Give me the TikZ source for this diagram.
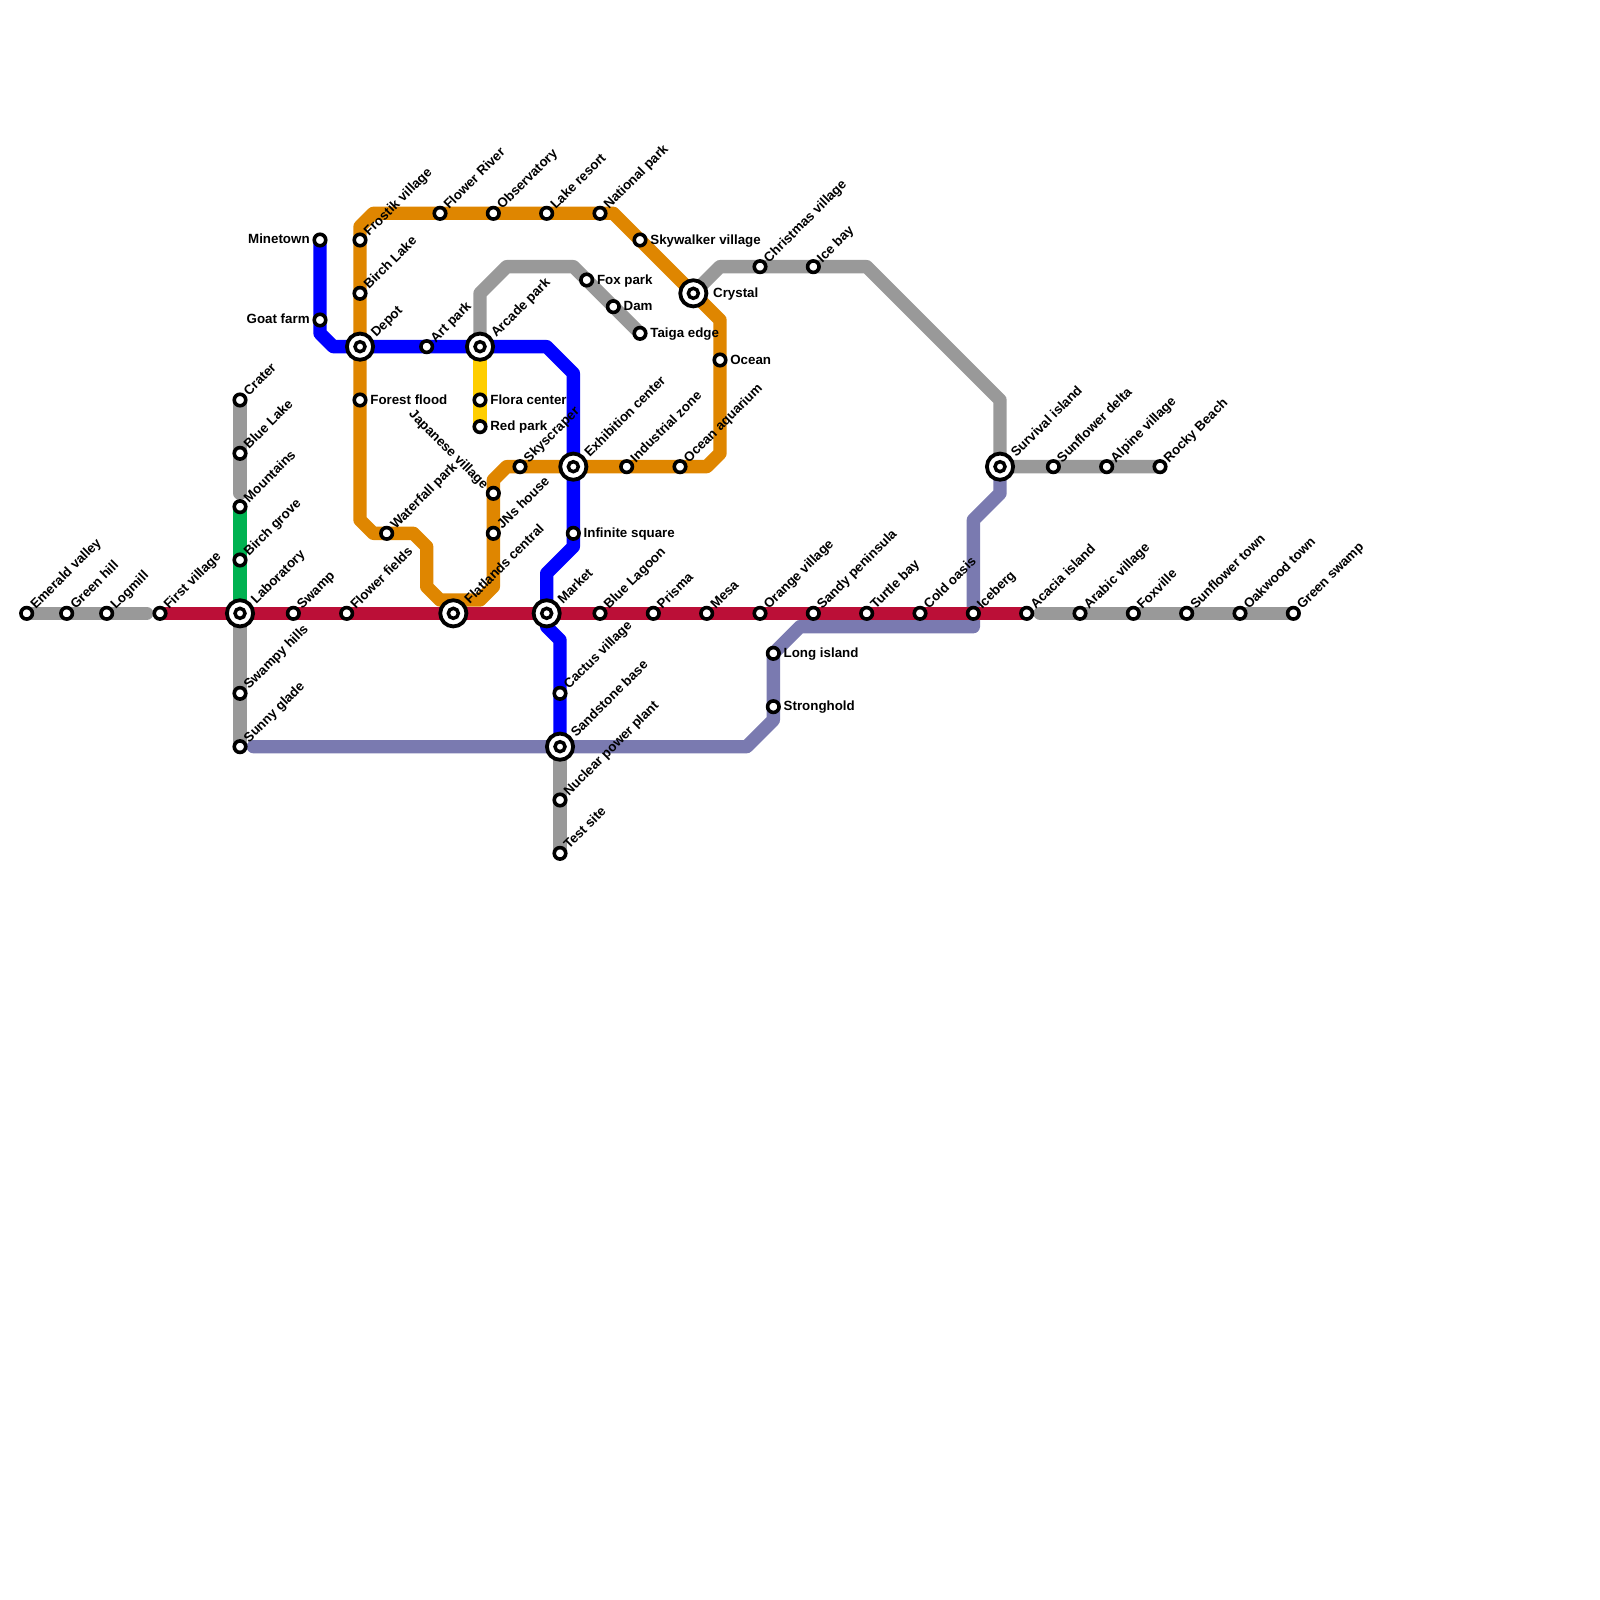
\documentclass[tikz,border=0pt]{standalone}
\usepackage{fontspec}
\setmainfont{Liberation Sans}
\usetikzlibrary{backgrounds}
\definecolor{linegray}{HTML}{999999}
\definecolor{lineorange}{HTML}{DF8600}
\definecolor{lineblue}{HTML}{0000FF}
\definecolor{linered}{HTML}{BB0F37}
\definecolor{linegreen}{HTML}{00B251}
\definecolor{lineyellow}{HTML}{FFCE00}
\definecolor{linepurple}{HTML}{7A7AB0}
\begin{document}
\begin{tikzpicture}[x=0.2cm,y=-0.2cm,
    stop node/.style={circle,draw=black,fill=white,line width=0.054cm,inner sep=0pt,minimum size=0.1725cm},
    hub node/.style={circle,draw=black,fill=white,line width=0.057cm,inner sep=0pt,minimum size=0.393cm,
        path picture={\draw[line width=0.052cm] (path picture bounding box.center) circle (0.075cm);}},
    metro line/.style={line width=0.2cm,line cap=round,line join=round},
    name text/.style={font=\bfseries\fontsize{5.69}{6.8}\selectfont,inner sep=0pt,text height=1.5ex,text depth=.25ex},
    ne label/.style={label={[name text,xshift=-0.03cm,rotate=45,anchor=west,label distance=0.05cm]45:#1}},
    hub ne label/.style={label={[name text,rotate=45,anchor=west,label distance=0.05cm]45:#1}},
    nw label/.style={label={[name text,xshift=0.015cm,rotate=-45,anchor=east,label distance=0.05cm]135:#1}},
    e label/.style={label={[name text,anchor=west,label distance=0.035cm,yshift=0.055cm]0:#1}},
    hub e label/.style={label={[name text,anchor=west,label distance=0.065cm,yshift=0.055cm]0:#1}},
    w label/.style={label={[name text,anchor=east,label distance=0.035cm,yshift=0.0625cm]180:#1}}]

    \useasboundingbox (0,0) rectangle (120,120);

    \node[stop node,ne label=Emerald valley] (emerald) at (2,46) {};
    \node[stop node,ne label=Green hill] (greenhill) at (5,46) {};
    \node[stop node,ne label=Logmill] (logmill) at (8,46) {};
    \node[stop node,ne label=First village] (firstvillage) at (12,46) {};
    \node[hub node,hub ne label=Laboratory] (laboratory) at (18,46) {};
    \node[stop node,ne label=Swamp] (swamp) at (22,46) {};
    \node[stop node,ne label=Flower fields] (flowerfields) at (26,46) {};
    \node[hub node,hub ne label=Flatlands central] (flatlands) at (34,46) {};
    \node[hub node,hub ne label=Market] (market) at (41,46) {};
    \node[stop node,ne label=Blue Lagoon] (bluelagoon) at (45,46) {};
    \node[stop node,ne label=Prisma] (prisma) at (49,46) {};
    \node[stop node,ne label=Mesa] (mesa) at (53,46) {};
    \node[stop node,ne label=Orange village] (orangevillage) at (57,46) {};
    \node[stop node,ne label=Sandy peninsula] (sandy) at (61,46) {};
    \node[stop node,ne label=Turtle bay] (turtlebay) at (65,46) {};
    \node[stop node,ne label=Cold oasis] (coldoasis) at (69,46) {};
    \node[stop node,ne label=Iceberg] (iceberg) at (73,46) {};
    \node[stop node,ne label=Acacia island] (acacia) at (77,46) {};
    \node[stop node,ne label=Arabic village] (arabic) at (81,46) {};
    \node[stop node,ne label=Foxville] (foxville) at (85,46) {};
    \node[stop node,ne label=Sunflower town] (sunflowertown) at (89,46) {};
    \node[stop node,ne label=Oakwood town] (oakwood) at (93,46) {};
    \node[stop node,ne label=Green swamp] (greenswamp) at (97,46) {};

    \node[stop node,ne label=Crater] (crater) at (18,30) {};
    \node[stop node,ne label=Blue Lake] (bluelake) at (18,34) {};
    \node[stop node,ne label=Mountains] (mountains) at (18,38) {};
    \node[stop node,ne label=Birch grove] (birchgrove) at (18,42) {};
    \node[stop node,ne label=Swampy hills] (swampyhills) at (18,52) {};
    \node[stop node,ne label=Sunny glade] (sunnyglade) at (18,56) {};

    \node[stop node,w label=Minetown] (minetown) at (24,18) {};
    \node[stop node,w label=Goat farm] (goatfarm) at (24,24) {};
    \node[hub node,hub ne label=Depot] (depot) at (27,26) {};
    \node[stop node,ne label=Art park] (artpark) at (32,26) {};
    \node[hub node,hub ne label=Arcade park] (arcade) at (36,26) {};
    \node[hub node,hub ne label=Exhibition center] (exhibition) at (43,35) {};
    \node[stop node,e label=Infinite square] (infinite) at (43,40) {};
    \node[stop node,ne label=Cactus village] (cactus) at (42,52) {};
    \node[hub node,hub ne label=Sandstone base] (sandstone) at (42,56) {};
    \node[stop node,ne label=Nuclear power plant] (nuclear) at (42,60) {};
    \node[stop node,ne label=Test site] (testsite) at (42,64) {};

    \node[stop node,ne label=Frostik village] (frostik) at (27,18) {};
    \node[stop node,ne label=Birch Lake] (birchlake) at (27,22) {};
    \node[stop node,e label=Forest flood] (forestflood) at (27,30) {};
    \node[stop node,ne label=Waterfall park] (waterfall) at (29,40) {};
    \node[stop node,ne label=Flower River] (flowerriver) at (33,16) {};
    \node[stop node,ne label=Observatory] (observatory) at (37,16) {};
    \node[stop node,ne label=Lake resort] (lakeresort) at (41,16) {};
    \node[stop node,ne label=National park] (nationalpark) at (45,16) {};
    \node[stop node,e label=Skywalker village] (skywalker) at (48,18) {};
    \node[hub node,hub e label=Crystal] (crystal) at (52,22) {};
    \node[stop node,e label=Ocean] (ocean) at (54,27) {};
    \node[stop node,ne label=Ocean aquarium] (oceanaquarium) at (51,35) {};
    \node[stop node,ne label=Industrial zone] (industrial) at (47,35) {};
    \node[stop node,ne label=Skyscraper] (skyscraper) at (39,35) {};
    \node[stop node,nw label=Japanese village] (japanese) at (37,37) {};
    \node[stop node,ne label=JNs house] (jnshouse) at (37,40) {};

    \node[stop node,e label=Flora center] (floracenter) at (36,30) {};
    \node[stop node,e label=Red park] (redpark) at (36,32) {};
    \node[stop node,e label=Fox park] (foxpark) at (44,21) {};
    \node[stop node,e label=Dam] (dam) at (46,23) {};
    \node[stop node,e label=Taiga edge] (taiga) at (48,25) {};
    \node[stop node,ne label=Christmas village] (christmas) at (57,20) {};
    \node[stop node,ne label=Ice bay] (icebay) at (61,20) {};
    \node[hub node,hub ne label=Survival island] (survival) at (75,35) {};
    \node[stop node,ne label=Sunflower delta] (sunflowerdelta) at (79,35) {};
    \node[stop node,ne label=Alpine village] (alpine) at (83,35) {};
    \node[stop node,ne label=Rocky Beach] (rockybeach) at (87,35) {};
    \node[stop node,e label=Long island] (longisland) at (58,49) {};
    \node[stop node,e label=Stronghold] (stronghold) at (58,53) {};

    \coordinate (west end) at (11,46);
    \coordinate (east end) at (78,46);
    \coordinate (crater end) at (18,37);
    \coordinate (arcade bend a) at (36,22);
    \coordinate (arcade bend b) at (38,20);
    \coordinate (arcade bend c) at (43,20);
    \coordinate (crystal bend a) at (54,20);
    \coordinate (crystal bend b) at (65,20);
    \coordinate (crystal bend c) at (75,30);
    \coordinate (blue a) at (24,25);
    \coordinate (blue b) at (25,26);
    \coordinate (blue c) at (41,26);
    \coordinate (blue d) at (43,28);
    \coordinate (blue e) at (43,41);
    \coordinate (blue f) at (41,43);
    \coordinate (blue g) at (41,47);
    \coordinate (blue h) at (42,48);
    \coordinate (orange a) at (33,45);
    \coordinate (orange b) at (32,44);
    \coordinate (orange c) at (32,41);
    \coordinate (orange d) at (31,40);
    \coordinate (orange e) at (28,40);
    \coordinate (orange f) at (27,39);
    \coordinate (orange g) at (27,17);
    \coordinate (orange h) at (28,16);
    \coordinate (orange i) at (46,16);
    \coordinate (orange j) at (54,24);
    \coordinate (orange k) at (54,34);
    \coordinate (orange l) at (53,35);
    \coordinate (orange m) at (38,35);
    \coordinate (orange n) at (37,36);
    \coordinate (orange o) at (37,44);
    \coordinate (orange p) at (36,45);
    \coordinate (purple a) at (75,37);
    \coordinate (purple b) at (73,39);
    \coordinate (purple c) at (73,47);
    \coordinate (purple d) at (60,47);
    \coordinate (purple e) at (58,54);
    \coordinate (purple f) at (56,56);
    \coordinate (purple g) at (19,56);

    \begin{scope}[on background layer]
        \draw[metro line,linegray] (emerald.center) -- (greenhill.center) -- (logmill.center) -- (west end);
        \draw[metro line,linegray] (east end) -- (arabic.center) -- (foxville.center) -- (sunflowertown.center) -- (oakwood.center) -- (greenswamp.center);
        \draw[metro line,linegray] (crater.center) -- (bluelake.center) -- (crater end);
        \draw[metro line,linegray] (laboratory.center) -- (swampyhills.center) -- (sunnyglade.center);
        \draw[metro line,linegray] (sandstone.center) -- (nuclear.center) -- (testsite.center);
        \draw[metro line,linegray] (arcade.center) -- (arcade bend a) -- (arcade bend b) -- (arcade bend c) -- (foxpark.center) -- (dam.center) -- (taiga.center);
        \draw[metro line,linegray] (crystal.center) -- (crystal bend a) -- (christmas.center) -- (icebay.center) -- (crystal bend b) -- (crystal bend c) -- (survival.center) -- (sunflowerdelta.center) -- (alpine.center) -- (rockybeach.center);
        \draw[metro line,linegreen] (mountains.center) -- (birchgrove.center) -- (laboratory.center);
        \draw[metro line,lineyellow] (arcade.center) -- (floracenter.center) -- (redpark.center);
        \draw[metro line,lineorange] (orange a) -- (orange b) -- (orange c) -- (orange d) -- (waterfall.center) -- (orange e) -- (orange f) -- (forestflood.center) -- (depot.center) -- (birchlake.center) -- (frostik.center) -- (orange g) -- (orange h) -- (flowerriver.center) -- (observatory.center) -- (lakeresort.center) -- (nationalpark.center) -- (orange i) -- (skywalker.center) -- (crystal.center) -- (orange j) -- (ocean.center) -- (orange k) -- (orange l) -- (oceanaquarium.center) -- (industrial.center) -- (exhibition.center) -- (skyscraper.center) -- (orange m) -- (orange n) -- (japanese.center) -- (jnshouse.center) -- (orange o) -- (orange p) -- (orange a);
        \draw[metro line,lineblue] (minetown.center) -- (goatfarm.center) -- (blue a) -- (blue b) -- (depot.center) -- (artpark.center) -- (arcade.center) -- (blue c) -- (blue d) -- (exhibition.center) -- (infinite.center) -- (blue e) -- (blue f) -- (market.center) -- (blue g) -- (blue h) -- (cactus.center) -- (sandstone.center);
        \draw[metro line,linepurple] (survival.center) -- (purple a) -- (purple b) -- (iceberg.center) -- (purple c) -- (purple d) -- (longisland.center) -- (stronghold.center) -- (purple e) -- (purple f) -- (sandstone.center) -- (purple g);
        \draw[metro line,linered] (firstvillage.center) -- (laboratory.center) -- (swamp.center) -- (flowerfields.center) -- (flatlands.center) -- (market.center) -- (bluelagoon.center) -- (prisma.center) -- (mesa.center) -- (orangevillage.center) -- (sandy.center) -- (turtlebay.center) -- (coldoasis.center) -- (iceberg.center) -- (acacia.center);
    \end{scope}
\end{tikzpicture}
\end{document}
